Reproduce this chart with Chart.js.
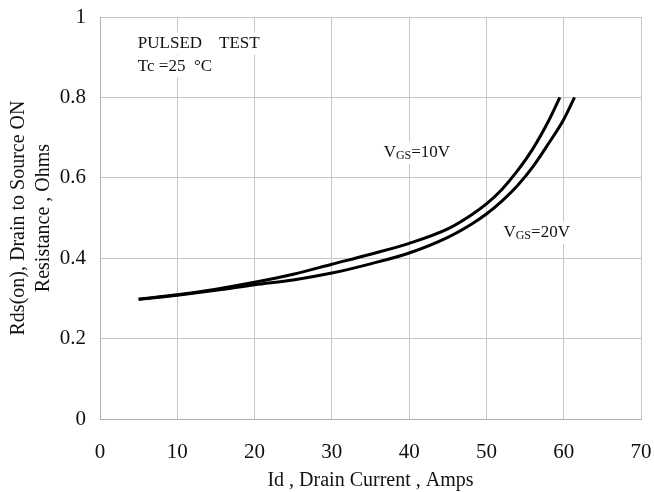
<!DOCTYPE html>
<html>
<head>
<meta charset="utf-8">
<script src="https://cdn.jsdelivr.net/npm/chart.js@4.4.0/dist/chart.umd.min.js"></script>
<style>
html,body{margin:0;padding:0;background:#fff;}
#wrap{width:654px;height:492px;position:relative;}
</style>
</head>
<body>
<div id="wrap"><canvas id="c" width="654" height="492"></canvas></div>
<script>
// Data
const vgs10X = [5, 10, 15, 20, 25, 30, 35, 40, 45, 48, 50, 52, 54, 56, 58, 59.5];
const vgs10Y = [0.298, 0.309, 0.323, 0.340, 0.360, 0.385, 0.410, 0.437, 0.473, 0.507, 0.535, 0.571, 0.617, 0.672, 0.740, 0.800];
const vgs20X = [5, 10, 15, 20, 25, 30, 35, 40, 45, 48, 50, 52, 54, 56, 58, 60, 61.4];
const vgs20Y = [0.298, 0.308, 0.320, 0.334, 0.346, 0.363, 0.386, 0.413, 0.452, 0.484, 0.510, 0.542, 0.580, 0.627, 0.684, 0.745, 0.800];
const xTicks = [0, 10, 20, 30, 40, 50, 60, 70];
const yTicks = [0, 0.2, 0.4, 0.6, 0.8, 1];
const xTitle = "Id , Drain Current , Amps";
const yTitle = ["Rds(on), Drain to Source ON", "Resistance , Ohms"];
const notes = [
  {x: 4.9, y: 0.934, parts: [["PULSED    TEST", false]]},
  {x: 4.9, y: 0.877, parts: [["Tc =25  \u00B0C", false]]},
  {x: 36.7, y: 0.662, parts: [["V", false], ["GS", true], ["=10V", false]]},
  {x: 52.2, y: 0.463, parts: [["V", false], ["GS", true], ["=20V", false]]}
];

const toPts = (xs, ys) => xs.map((x, i) => ({x: x, y: ys[i]}));
const serif = "'Liberation Serif', 'Times New Roman', serif";

const notePlugin = {
  id: 'notes',
  afterDatasetsDraw(chart) {
    const ctx = chart.ctx;
    const xs = chart.scales.x, ys = chart.scales.y;
    ctx.save();
    ctx.textBaseline = 'middle';
    notes.forEach(n => {
      const px = xs.getPixelForValue(n.x);
      const py = ys.getPixelForValue(n.y);
      let w = 0;
      n.parts.forEach(p => {
        ctx.font = (p[1] ? 12 : 17) + 'px ' + serif;
        w += ctx.measureText(p[0]).width;
      });
      ctx.fillStyle = '#fff';
      ctx.fillRect(px - 2, py - 11, w + 4, 22);
      let cx = px;
      ctx.fillStyle = '#111';
      n.parts.forEach(p => {
        ctx.font = (p[1] ? 12 : 17) + 'px ' + serif;
        ctx.fillText(p[0], cx, p[1] ? py + 3 : py);
        cx += ctx.measureText(p[0]).width;
      });
    });
    ctx.restore();
  }
};

new Chart(document.getElementById('c'), {
  type: 'scatter',
  data: {
    datasets: [
      {label: 'VGS=10V', data: toPts(vgs10X, vgs10Y), showLine: true, borderColor: '#000', borderWidth: 3, pointRadius: 0, cubicInterpolationMode: 'monotone', fill: false},
      {label: 'VGS=20V', data: toPts(vgs20X, vgs20Y), showLine: true, borderColor: '#000', borderWidth: 3, pointRadius: 0, cubicInterpolationMode: 'monotone', fill: false}
    ]
  },
  options: {
    responsive: false,
    animation: false,
    devicePixelRatio: 1,
    layout: {padding: {top: 17, right: 13, left: 0, bottom: 0}},
    plugins: {legend: {display: false}, tooltip: {enabled: false}},
    scales: {
      x: {
        type: 'linear', min: 0, max: 70,
        afterBuildTicks: s => { s.ticks = xTicks.map(v => ({value: v})); },
        afterFit: s => { s.height = 73; s.paddingLeft = 0; s.paddingRight = 0; },
        grid: {color: '#c6c6c6', lineWidth: 1, drawTicks: false},
        border: {color: '#b0b0b0'},
        ticks: {font: {family: serif, size: 21}, color: '#111', padding: 21},
        title: {display: true, text: xTitle, font: {family: serif, size: 20}, color: '#111', padding: {top: 0, bottom: -1}}
      },
      y: {
        type: 'linear', min: 0, max: 1,
        afterBuildTicks: s => { s.ticks = yTicks.map(v => ({value: v})); },
        afterFit: s => { s.width = 100; s.paddingTop = 0; s.paddingBottom = 0; },
        grid: {color: '#c6c6c6', lineWidth: 1, drawTicks: false},
        border: {color: '#b0b0b0'},
        ticks: {font: {family: serif, size: 21}, color: '#111', padding: 14, callback: v => String(v)},
        title: {display: true, text: yTitle, font: {family: serif, size: 20, lineHeight: 1.25}, color: '#111', padding: {top: 6, bottom: 0}}
      }
    }
  },
  plugins: [notePlugin]
});
</script>
</body>
</html>
